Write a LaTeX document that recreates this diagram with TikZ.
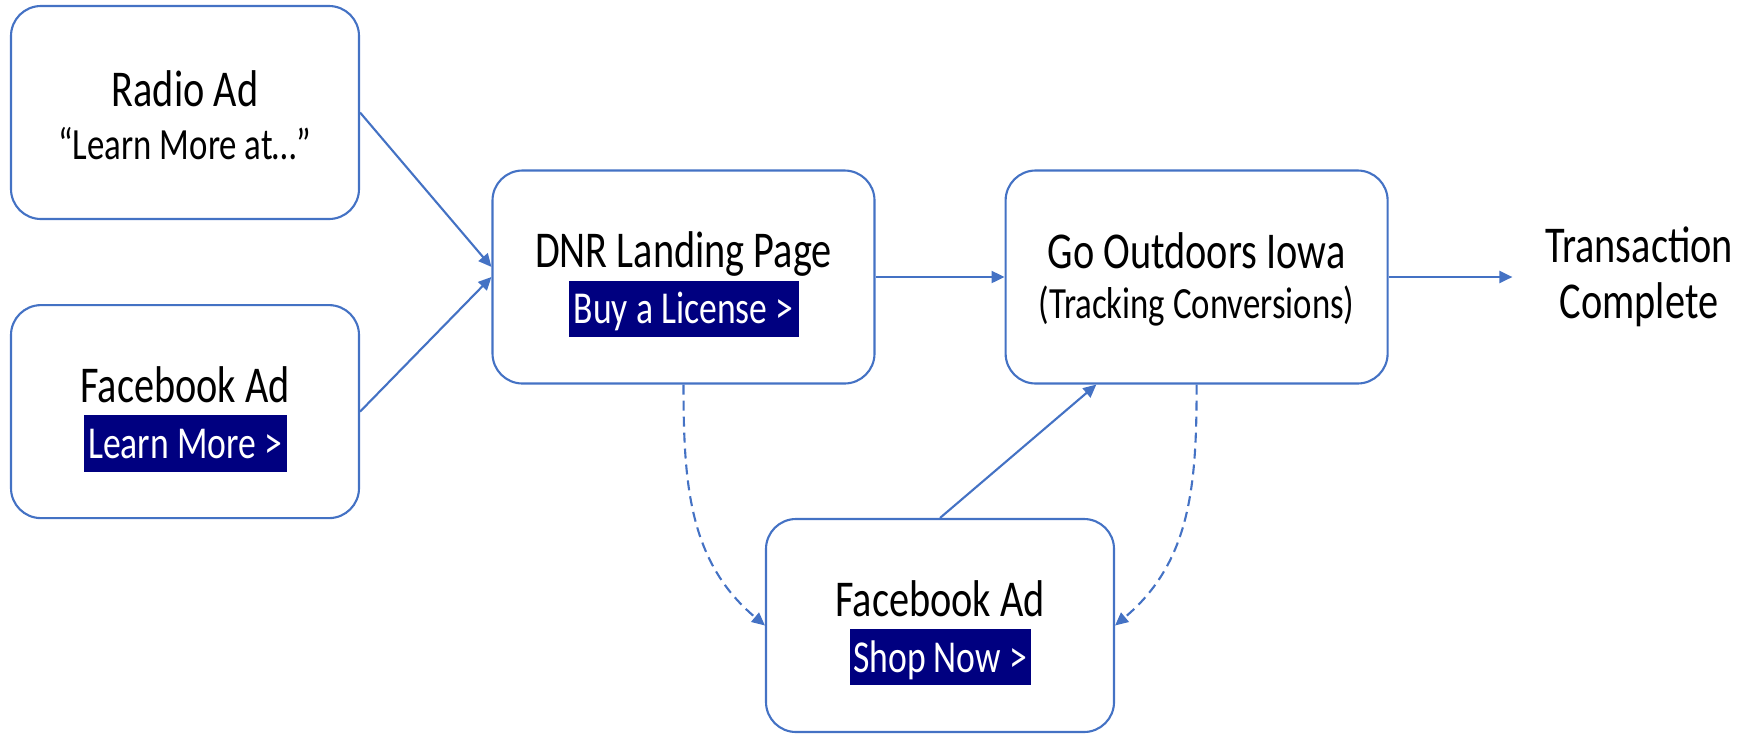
\documentclass[tikz,border=0pt]{standalone}
\usepackage{fontspec}
\setmainfont{Carlito}[FakeStretch=0.78]
\usepackage{xcolor}
\usetikzlibrary{arrows.meta}
\usetikzlibrary{positioning}
\definecolor{boxblue}{HTML}{4472C4}
\definecolor{btnblue}{HTML}{000080}
\newcommand{\btn}[2]{{\setlength{\fboxsep}{0pt}\colorbox{btnblue}{\rule[-3.7pt]{0pt}{16pt}\makebox[#1][c]{\color{white}\fontsize{13}{16}\selectfont #2}}}}
\newcommand{\sub}[1]{{\fontsize{12.7}{16}\selectfont #1}}
\newcommand{\lift}[1]{\rule{0pt}{#1}}

\begin{document}
\begin{tikzpicture}[
  every node/.style={font=\fontsize{14.7}{16}\selectfont},
  box/.style={draw=boxblue,line width=0.6pt,rounded corners=0.3cm,align=center,
    minimum width=3.48cm,minimum height=2.13cm,inner sep=0pt},
  widebox/.style={box,minimum width=3.82cm},
  link/.style={draw=boxblue,line width=0.6pt,-{Triangle[length=1.3mm,width=1.2mm]}},
  backlink/.style={link,dash pattern=on 1mm off 0.6mm}]
\useasboundingbox (0,0) rectangle (17.5,-7.33);
\node[box] (radio) at (1.85,-1.125) {\lift{11.6pt}Radio Ad\\[-0.9pt]\sub{“Learn More at…”}};
\node[box,below=0.84cm of radio] (fbad) {\lift{14.4pt}Facebook Ad\\\btn{2.03cm}{Learn More >}};
\node[widebox] (dnr) at (6.835,-2.77) {\lift{14.4pt}DNR Landing Page\\\btn{2.30cm}{Buy a License >}};
\node[widebox,right=1.29cm of dnr] (goi) {\lift{11.6pt}Go Outdoors Iowa\\[-2pt]\sub{(Tracking Conversions)}};
\node[box] (fbshop) at (9.40,-6.255) {\lift{14.4pt}Facebook Ad\\\btn{1.81cm}{Shop Now >}};
\node[align=center,inner xsep=0.32cm] (done) at (16.39,-2.77) {Transaction\\Complete};
\draw[link] (radio.east) -- (dnr.177);
\draw[link] (fbad.east) -- (dnr.west);
\draw[link] (dnr.east) -- (goi.west);
\draw[link] (goi.east) -- (done.west);
\draw[link] (fbshop.north) -- (goi.-133);
\draw[backlink] (dnr.south) to[out=-90,in=140] (fbshop.west);
\draw[backlink] (goi.south) to[out=-90,in=40] (fbshop.east);
\end{tikzpicture}
\end{document}
